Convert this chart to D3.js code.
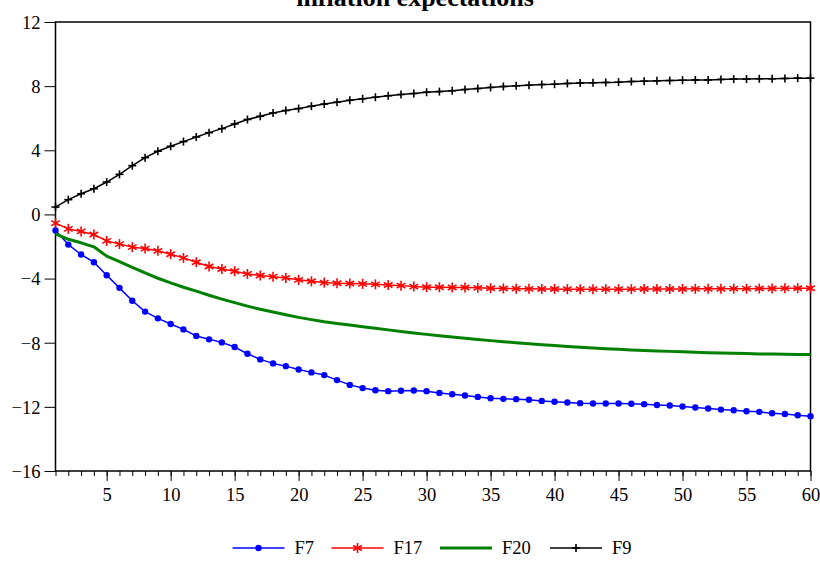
<!DOCTYPE html>
<html><head><meta charset="utf-8">
<script src="https://cdn.jsdelivr.net/npm/d3@7/dist/d3.min.js"></script>
<style>
html,body{margin:0;padding:0;background:#fff;}
svg{display:block;font-family:"Liberation Serif","Times New Roman",serif;}
</style></head>
<body><svg id="c" width="820" height="562"></svg>
<script>
const title = "inflation expectations";
const periods = d3.range(1, 61);
const yTicks = [-16, -12, -8, -4, 0, 4, 8, 12];
const xLabels = [5, 10, 15, 20, 25, 30, 35, 40, 45, 50, 55, 60];
const seriesNames = ["F7", "F17", "F20", "F9"];

const F7 = [-1.0,-1.88,-2.5,-2.98,-3.79,-4.58,-5.38,-6.06,-6.48,-6.83,
 -7.17,-7.58,-7.79,-7.98,-8.27,-8.69,-9.04,-9.29,-9.46,-9.67,
 -9.85,-10.02,-10.33,-10.63,-10.83,-10.96,-11.02,-11.0,-10.98,-11.02,
 -11.13,-11.21,-11.29,-11.38,-11.46,-11.5,-11.52,-11.56,-11.63,-11.68,
 -11.73,-11.77,-11.79,-11.79,-11.79,-11.81,-11.83,-11.88,-11.92,-11.98,
 -12.04,-12.1,-12.17,-12.21,-12.27,-12.31,-12.4,-12.44,-12.52,-12.58];
const F17 = [-0.54,-0.9,-1.06,-1.25,-1.65,-1.85,-2.04,-2.13,-2.27,-2.48,
 -2.71,-2.98,-3.25,-3.4,-3.54,-3.71,-3.81,-3.88,-3.96,-4.08,
 -4.17,-4.25,-4.29,-4.31,-4.33,-4.36,-4.4,-4.44,-4.5,-4.54,
 -4.54,-4.56,-4.56,-4.58,-4.6,-4.62,-4.63,-4.64,-4.65,-4.65,
 -4.66,-4.66,-4.66,-4.66,-4.66,-4.66,-4.65,-4.65,-4.65,-4.65,
 -4.64,-4.64,-4.64,-4.63,-4.63,-4.62,-4.62,-4.61,-4.6,-4.6];
const F20 = [-1.21,-1.55,-1.77,-2.02,-2.6,-2.95,-3.3,-3.65,-3.98,-4.27,
 -4.54,-4.78,-5.04,-5.28,-5.5,-5.72,-5.91,-6.09,-6.26,-6.42,
 -6.56,-6.69,-6.8,-6.9,-7.0,-7.1,-7.2,-7.3,-7.39,-7.48,
 -7.57,-7.65,-7.72,-7.8,-7.87,-7.94,-8.0,-8.06,-8.12,-8.18,
 -8.23,-8.28,-8.33,-8.37,-8.41,-8.45,-8.48,-8.51,-8.54,-8.57,
 -8.6,-8.62,-8.64,-8.66,-8.68,-8.7,-8.71,-8.72,-8.73,-8.74];
const F9 = [0.46,0.92,1.29,1.6,2.02,2.5,3.04,3.54,3.94,4.25,
 4.54,4.83,5.1,5.35,5.64,5.92,6.12,6.33,6.48,6.6,
 6.75,6.88,7.0,7.12,7.21,7.31,7.4,7.48,7.54,7.62,
 7.66,7.71,7.79,7.85,7.92,7.98,8.02,8.06,8.1,8.12,
 8.17,8.19,8.21,8.23,8.25,8.29,8.31,8.33,8.35,8.37,
 8.39,8.39,8.42,8.44,8.44,8.46,8.46,8.48,8.5,8.5];

const seriesValues = [F7, F17, F20, F9];
const colors = ["#0000ff", "#ff0000", "#008000", "#000000"];
const widths = [1.5, 1.5, 3, 1.5];
const markers = ["dot", "star", "none", "plus"];

const svg = d3.select("#c");
const L = 55.5, R = 810.5, T = 22, B = 471;
const x = d3.scaleLinear().domain([1, 60]).range([L, R]);
const y = d3.scaleLinear().domain([-16, 12]).range([B, T]);

// title (partly cut off at the top, as in the reference)
svg.append("text").attr("x", 415).attr("y", 6)
  .attr("text-anchor", "middle").attr("font-weight", "bold")
  .attr("font-size", 26).text(title);

// y axis
const yAxis = d3.axisLeft(y).tickValues(yTicks).tickSize(11).tickPadding(4).tickFormat(d3.format("d"));
const gy = svg.append("g").attr("transform", `translate(${L},0)`).call(yAxis);
gy.select(".domain").remove();
gy.selectAll("line").attr("stroke", "#000").attr("stroke-width", 1);
gy.selectAll("text").attr("font-size", 18.5).attr("font-family", "Liberation Serif").attr("fill", "#000").attr("dy", "0.34em");

// x axis minor ticks
const gxm = svg.append("g").attr("transform", `translate(0,${B})`)
  .call(d3.axisBottom(x).tickValues(periods).tickSize(5).tickFormat(""));
gxm.select(".domain").remove();
gxm.selectAll("line").attr("stroke", "#000").attr("stroke-width", 1);
const gx = svg.append("g").attr("transform", `translate(0,${B})`)
  .call(d3.axisBottom(x).tickValues(xLabels).tickSize(10).tickPadding(7).tickFormat(d3.format("d")));
gx.select(".domain").remove();
gx.selectAll("line").attr("stroke", "#000").attr("stroke-width", 1);
gx.selectAll("text").attr("font-size", 18.5).attr("font-family", "Liberation Serif").attr("fill", "#000");

// frame
svg.append("rect").attr("x", L).attr("y", T).attr("width", R - L).attr("height", B - T)
  .attr("fill", "none").attr("stroke", "#000").attr("stroke-width", 1.5);

function drawMarker(g, type, cx, cy, color) {
  if (type === "dot") {
    g.append("circle").attr("cx", cx).attr("cy", cy).attr("r", 3.2).attr("fill", color);
  } else if (type === "star") {
    const s = 5;
    [90, 30, -30].forEach(a => {
      const r = a * Math.PI / 180, dx = Math.cos(r) * s, dy = Math.sin(r) * s;
      g.append("line").attr("x1", cx - dx).attr("y1", cy - dy).attr("x2", cx + dx).attr("y2", cy + dy)
        .attr("stroke", color).attr("stroke-width", 1.6);
    });
  } else if (type === "plus") {
    const s = 4;
    g.append("line").attr("x1", cx - s).attr("y1", cy).attr("x2", cx + s).attr("y2", cy).attr("stroke", color).attr("stroke-width", 1.6);
    g.append("line").attr("x1", cx).attr("y1", cy - s).attr("x2", cx).attr("y2", cy + s).attr("stroke", color).attr("stroke-width", 1.6);
  }
}

const line = d3.line().x((d, i) => x(periods[i])).y(d => y(d));
const plot = svg.append("g");
seriesValues.forEach((vals, k) => {
  const g = plot.append("g");
  g.append("path").datum(vals).attr("d", line).attr("fill", "none")
    .attr("stroke", colors[k]).attr("stroke-width", widths[k]).attr("stroke-linejoin", "round");
  vals.forEach((v, i) => drawMarker(g, markers[k], x(periods[i]), y(v), colors[k]));
});

// legend
const legX = [232.5, 331.5, 440, 550];
const legY = 548;
seriesNames.forEach((name, k) => {
  const g = svg.append("g");
  g.append("line").attr("x1", legX[k]).attr("x2", legX[k] + 52).attr("y1", legY).attr("y2", legY)
    .attr("stroke", colors[k]).attr("stroke-width", widths[k]);
  drawMarker(g, markers[k], legX[k] + 26, legY, colors[k]);
  g.append("text").attr("x", legX[k] + 62).attr("y", legY).attr("dy", "0.34em")
    .attr("font-size", 18.5).text(name);
});
</script></body></html>
